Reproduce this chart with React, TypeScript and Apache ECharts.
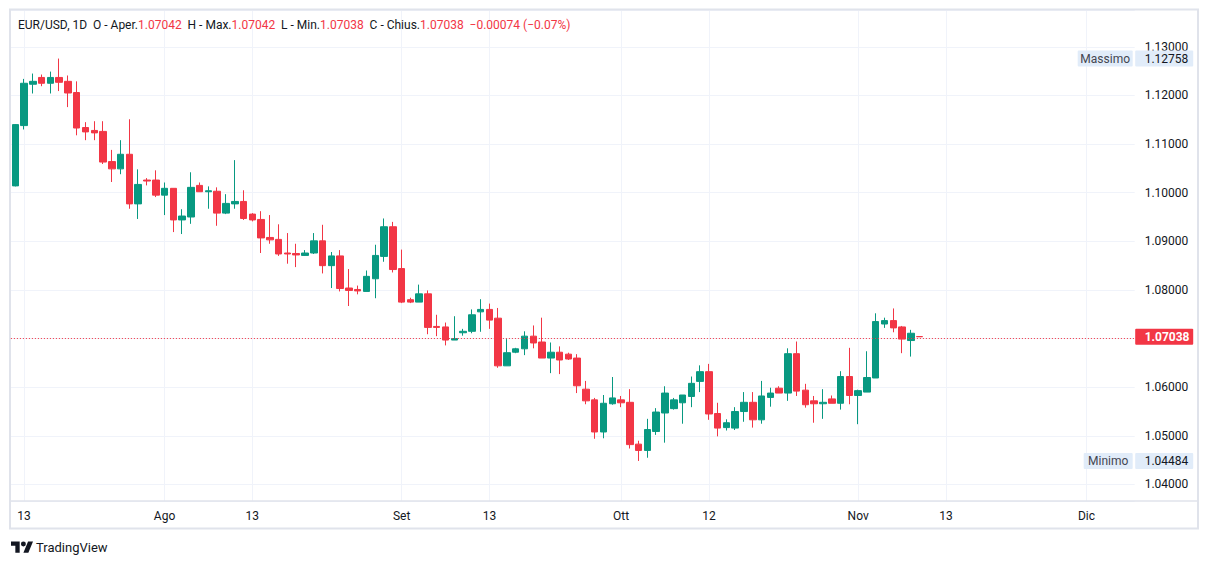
import React, { useEffect, useRef } from "react";
import * as echarts from "echarts";

// ---- calendar (trading days incl. Sunday sessions) ----
const julyDays = [12, 13, 14, 16, 17, 18, 19, 20, 21, 23, 24, 25, 26, 27, 28, 30, 31];
const augustDays = [1, 2, 3, 4, 6, 7, 8, 9, 10, 11, 13, 14, 15, 16, 17, 18, 20, 21, 22, 23, 24, 25, 27, 28, 29, 30, 31];
const septemberDays = [1, 3, 4, 5, 6, 7, 8, 10, 11, 12, 13, 14, 15, 17, 18, 19, 20, 21, 22, 24, 25, 26, 27, 28, 29];
const octoberDays = [1, 2, 3, 4, 5, 6, 8, 9, 10, 11, 12, 13, 15, 16, 17, 18, 19, 20, 22, 23, 24, 25, 26, 27, 29, 30, 31];
const novemberDays = [1, 2, 3, 5, 6, 7, 8, 9, 10, 12, 13, 14, 15, 16, 17, 19, 20, 21, 22, 23, 24, 26, 27, 28, 29, 30];
const decemberDays = [1, 3, 4, 5, 6, 7];

const pad = (n: number) => (n < 10 ? "0" + n : "" + n);
const categories: string[] = [
  ...julyDays.map((d) => "2023-07-" + pad(d)),
  ...augustDays.map((d) => "2023-08-" + pad(d)),
  ...septemberDays.map((d) => "2023-09-" + pad(d)),
  ...octoberDays.map((d) => "2023-10-" + pad(d)),
  ...novemberDays.map((d) => "2023-11-" + pad(d)),
  ...decemberDays.map((d) => "2023-12-" + pad(d)),
];

// ---- time axis tick labels ----
const tickDates = ["2023-07-13", "2023-08-01", "2023-08-13", "2023-09-01", "2023-09-13", "2023-10-01", "2023-10-12", "2023-11-01", "2023-11-13", "2023-12-01"];
const tickLabels = ["13", "Ago", "13", "Set", "13", "Ott", "12", "Nov", "13", "Dic"];

// ---- OHLC (EUR/USD daily) ----
const opens = [
  1.1014, 1.1138, 1.1223, 1.1237, 1.1225, 1.1237, 1.1229, 1.1206, 1.1134, 1.1128, 1.1126, 1.1064, 1.1049,
  1.1079, 1.0977, 1.1026, 1.1026, 1.0995, 1.1009, 1.0944, 1.095, 1.1015, 1.1002, 1.1003, 1.0958, 1.0977,
  1.0982, 1.0956, 1.0945, 1.0908, 1.0904, 1.0876, 1.0875, 1.0871, 1.0876, 1.0901, 1.085, 1.087, 1.0804,
  1.0801, 1.0797, 1.0823, 1.0869, 1.093, 1.0844, 1.078, 1.0775, 1.0792, 1.0725, 1.0724, 1.0697, 1.0712,
  1.0715, 1.0755, 1.076, 1.0742, 1.0644, 1.0672, 1.0679, 1.0705, 1.0693, 1.066, 1.0672, 1.0668, 1.066,
  1.0596, 1.0574, 1.0508, 1.0566, 1.0574, 1.0569, 1.0483, 1.047, 1.0509, 1.0547, 1.0556, 1.0568, 1.0581,
  1.0612, 1.0632, 1.0546, 1.0517, 1.0516, 1.055, 1.0569, 1.0533, 1.0579, 1.0598, 1.0588, 1.0669, 1.0594,
  1.0572, 1.0566, 1.0576, 1.0567, 1.0622, 1.0583, 1.059, 1.0619, 1.073, 1.0737, 1.0724, 1.0696, 1.07042,
];
const highs = [
  1.1141, 1.1234, 1.1245, 1.1243, 1.1249, 1.12758, 1.1241, 1.1229, 1.1145, 1.1147, 1.1147, 1.1088, 1.1108,
  1.1151, 1.1048, 1.103, 1.1046, 1.1021, 1.1009, 1.0966, 1.1042, 1.1021, 1.1013, 1.1011, 1.0997, 1.1067,
  1.1005, 1.0958, 1.0962, 1.0954, 1.0935, 1.0917, 1.0895, 1.0882, 1.0917, 1.0934, 1.0878, 1.0882, 1.0843,
  1.0809, 1.084, 1.0893, 1.0947, 1.094, 1.0883, 1.0784, 1.0811, 1.0799, 1.0749, 1.0733, 1.0746, 1.072,
  1.076, 1.0781, 1.0772, 1.0763, 1.0699, 1.0681, 1.0715, 1.0727, 1.0743, 1.0692, 1.0684, 1.0671, 1.0668,
  1.0613, 1.0578, 1.0584, 1.0621, 1.0582, 1.0596, 1.049, 1.0535, 1.0557, 1.0602, 1.0578, 1.0584, 1.0622,
  1.0645, 1.0648, 1.0568, 1.0534, 1.0559, 1.059, 1.059, 1.0613, 1.0599, 1.0602, 1.068, 1.0694, 1.0607,
  1.0582, 1.0596, 1.0583, 1.0633, 1.0681, 1.0595, 1.0674, 1.0752, 1.0743, 1.0762, 1.0726, 1.0718, 1.07042,
];
const lows = [
  1.1013, 1.113, 1.1204, 1.1219, 1.1204, 1.1209, 1.1176, 1.1118, 1.1108, 1.1108, 1.1059, 1.1022, 1.1038,
  1.0967, 1.0946, 1.1015, 1.0991, 1.0954, 1.0919, 1.0915, 1.0936, 1.1002, 1.0967, 1.0932, 1.0956, 1.0967,
  1.0944, 1.0941, 1.0876, 1.0895, 1.087, 1.0854, 1.0847, 1.087, 1.0874, 1.0834, 1.0804, 1.0797, 1.0767,
  1.0791, 1.0797, 1.0783, 1.0858, 1.0836, 1.0773, 1.0773, 1.0775, 1.0709, 1.0705, 1.0686, 1.0697, 1.0706,
  1.0711, 1.0714, 1.072, 1.064, 1.0644, 1.067, 1.0666, 1.068, 1.066, 1.0629, 1.0627, 1.0656, 1.0588,
  1.0565, 1.0494, 1.0495, 1.0564, 1.0559, 1.0474, 1.04484, 1.0455, 1.0502, 1.0486, 1.0554, 1.0525, 1.0559,
  1.059, 1.0533, 1.0499, 1.0511, 1.0512, 1.0529, 1.0517, 1.0525, 1.056, 1.0588, 1.0572, 1.0582, 1.0558,
  1.0527, 1.0535, 1.0567, 1.0554, 1.0565, 1.0524, 1.059, 1.0619, 1.0722, 1.0713, 1.067, 1.0663, 1.07038,
];
const closes = [
  1.114, 1.1225, 1.1229, 1.1225, 1.1237, 1.1227, 1.1205, 1.1133, 1.1125, 1.1123, 1.1063, 1.1049, 1.1079,
  1.0977, 1.1017, 1.1024, 1.0995, 1.1009, 1.0944, 1.0952, 1.1011, 1.1002, 1.1004, 1.0958, 1.0978, 1.0982,
  1.0947, 1.0944, 1.0907, 1.0903, 1.0874, 1.0874, 1.0872, 1.0876, 1.0901, 1.085, 1.087, 1.0803, 1.0799,
  1.0798, 1.0828, 1.0871, 1.093, 1.0842, 1.0775, 1.0775, 1.0792, 1.0723, 1.0723, 1.0697, 1.07, 1.0715,
  1.0749, 1.076, 1.0738, 1.0644, 1.0671, 1.0679, 1.0705, 1.0691, 1.066, 1.0672, 1.0656, 1.0658, 1.0603,
  1.0572, 1.0508, 1.0567, 1.0578, 1.0568, 1.0482, 1.047, 1.0513, 1.0549, 1.0588, 1.0574, 1.0584, 1.0608,
  1.0632, 1.0545, 1.0516, 1.0527, 1.055, 1.0569, 1.0533, 1.0582, 1.0588, 1.0588, 1.0669, 1.0592, 1.0564,
  1.0566, 1.0569, 1.0567, 1.0622, 1.0583, 1.0593, 1.062, 1.0735, 1.0737, 1.0722, 1.0699, 1.0711, 1.07038,
];

// ---- legend / price-scale annotations ----
const symbolTitle = "EUR/USD, 1D";
const headerOpen = "1.07042";
const headerHigh = "1.07042";
const headerLow = "1.07038";
const headerClose = "1.07038";
const headerChange = "\u22120.00074 (\u22120.07%)";
const lastPrice = 1.07038;
const maxPrice = 1.12758;
const minPrice = 1.04484;
const yMin = 1.036606;
const yMax = 1.137567;

// ---- layout ----
const W = 1209;
const H = 564;
const GRID_LEFT = 10.9;
const GRID_TOP = 10;
const GRID_RIGHT_X = 1134.7;
const GRID_BOTTOM_Y = 501;

const GREEN = "#089981";
const RED = "#f23645";
const TEXT = "#131722";
const GRIDC = "#f0f3fa";
const FONT = "Roboto, 'Noto Sans', sans-serif";

const logoPath =
  "M14 22H7V11H0V4h14v18zM28 22h-8l7.5-18h8L28 22zM20 4a4 4 0 1 0 0 8a4 4 0 1 0 0-8z";
let logoRegistered = false;

export default function App() {
  const ref = useRef<HTMLDivElement>(null);
  useEffect(() => {
    if (!ref.current) return;
    if (!logoRegistered) {
      echarts.graphic.registerShape("tvlogo", echarts.graphic.extendPath(logoPath, {}) as any);
      logoRegistered = true;
    }
    const chart = echarts.init(ref.current, null, { renderer: "svg" });
    const tickMap: Record<string, string> = {};
    tickDates.forEach((d, i) => (tickMap[d] = tickLabels[i]));
    const tickIdx = new Set(tickDates.map((d) => categories.indexOf(d)));
    const candles = opens.map((o, i) => [o, closes[i], lows[i], highs[i]]);

    chart.setOption({
      animation: false,
      textStyle: { fontFamily: FONT },
      grid: {
        left: GRID_LEFT,
        top: GRID_TOP,
        width: GRID_RIGHT_X - GRID_LEFT,
        height: GRID_BOTTOM_Y - GRID_TOP,
      },
      xAxis: {
        type: "category",
        data: categories,
        boundaryGap: true,
        axisLine: { show: false },
        axisTick: { show: false },
        axisLabel: {
          interval: (i: number) => tickIdx.has(i),
          formatter: (v: string) => tickMap[v] || "",
          color: TEXT,
          fontSize: 12,
          margin: 9,
          fontFamily: FONT,
        },
        splitLine: {
          show: true,
          interval: (i: number) => tickIdx.has(i),
          alignWithLabel: true,
          lineStyle: { color: GRIDC, width: 1 },
        } as any,
      },
      yAxis: {
        type: "value",
        position: "right",
        min: yMin,
        max: yMax,
        splitNumber: 10,
        scale: true,
        axisLine: { show: false },
        axisTick: { show: false },
        axisLabel: {
          showMinLabel: false,
          showMaxLabel: false,
          formatter: (v: number) => v.toFixed(5),
          color: TEXT,
          fontSize: 12,
          margin: 10,
          fontFamily: FONT,
        },
        splitLine: { show: true, lineStyle: { color: GRIDC, width: 1 } },
      },
      series: [
        {
          type: "candlestick",
          data: candles,
          barWidth: 7,
          clip: false,
          itemStyle: {
            color: GREEN,
            color0: RED,
            borderColor: GREEN,
            borderColor0: RED,
            borderColorDoji: RED,
            borderWidth: 1,
          },
          markLine: {
            silent: true,
            symbol: ["none", "none"],
            label: { show: false },
            lineStyle: { color: RED, type: [1, 2], width: 1 },
            data: [{ yAxis: lastPrice }],
          },
        },
      ],
    });

    const yp = (p: number) => chart.convertToPixel({ yAxisIndex: 0 }, p) as number;
    const tag = (x: number, yc: number, w: number, fill: string, text: string, color: string, bold: boolean, align: string, tx: number) => ({
      type: "group",
      z: 200,
      children: [
        { type: "rect", z: 200, shape: { x, y: yc - 8, width: w, height: 16, r: 1 }, style: { fill } },
        {
          type: "text",
          z: 201,
          x: tx,
          y: yc,
          style: {
            text,
            fill: color,
            font: `${bold ? "bold " : ""}12px ${FONT}`,
            align,
            verticalAlign: "middle",
          },
        },
      ],
    });
    const tagBg = "#e1ecf9";
    const yMaxP = yp(maxPrice);
    const yMinP = yp(minPrice);
    const yLast = yp(lastPrice);

    chart.setOption({
      graphic: [
        // frame
        {
          type: "rect",
          shape: { x: 10, y: 9.5, width: 1188, height: 519 },
          style: { fill: "none", stroke: "#e0e3eb", lineWidth: 2 },
          silent: true,
        },
        {
          type: "line",
          shape: { x1: 10, y1: GRID_BOTTOM_Y, x2: 1198, y2: GRID_BOTTOM_Y },
          style: { stroke: "#e0e3eb", lineWidth: 1.5 },
        },
        // header legend
        {
          type: "text",
          x: 18,
          y: 25,
          style: {
            text:
              `{d|${symbolTitle}}  {d|O - Aper.}{r|${headerOpen}}  {d|H - Max.}{r|${headerHigh}}  ` +
              `{d|L - Min.}{r|${headerLow}}  {d|C - Chius.}{r|${headerClose}}  {r|${headerChange}}`,
            verticalAlign: "middle",
            font: `12px ${FONT}`,
            rich: {
              d: { fill: TEXT, font: `12px ${FONT}` },
              r: { fill: RED, font: `12px ${FONT}` },
            },
          },
        },
        // max / min tags
        tag(GRID_RIGHT_X - 57, yMaxP, 55, tagBg, "Massimo", "#434651", false, "center", GRID_RIGHT_X - 29.5),
        tag(GRID_RIGHT_X + 0.5, yMaxP, 58, tagBg, maxPrice.toFixed(5), TEXT, false, "left", GRID_RIGHT_X + 10),
        tag(GRID_RIGHT_X - 51, yMinP, 49, tagBg, "Minimo", "#434651", false, "center", GRID_RIGHT_X - 26.5),
        tag(GRID_RIGHT_X + 0.5, yMinP, 58, tagBg, minPrice.toFixed(5), TEXT, false, "left", GRID_RIGHT_X + 10),
        // last price tag
        tag(GRID_RIGHT_X + 0.5, yLast, 58, RED, lastPrice.toFixed(5), "#ffffff", true, "left", GRID_RIGHT_X + 10),
        // TradingView logo
        {
          type: "tvlogo",
          x: 11,
          y: 539,
          scaleX: 0.62,
          scaleY: 0.62,
          style: { fill: TEXT },
        },
        {
          type: "text",
          x: 36,
          y: 547,
          style: { text: "TradingView", fill: TEXT, font: `13px ${FONT}`, verticalAlign: "middle" },
        },
      ],
    });

    return () => chart.dispose();
  }, []);

  return (
    <div
      ref={ref}
      style={{ position: "fixed", left: 0, top: 0, width: W, height: H, background: "#ffffff" }}
    />
  );
}
